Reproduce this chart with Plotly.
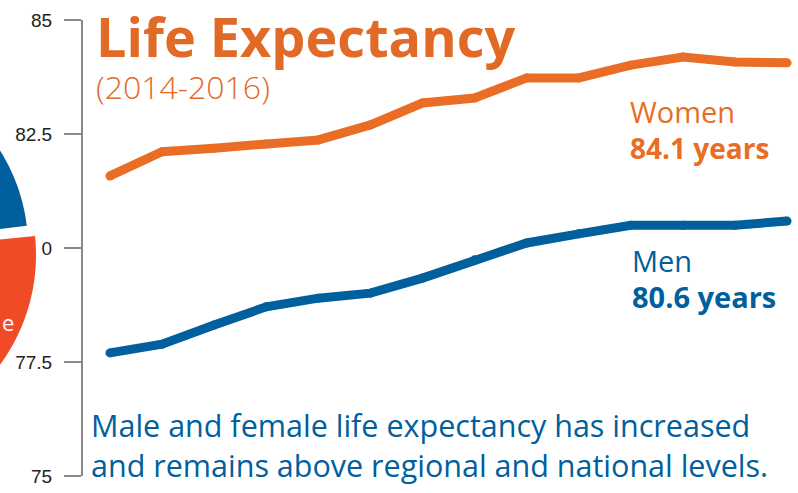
import numpy as np
import plotly.graph_objects as go

periods = ["2001-2003", "2002-2004", "2003-2005", "2004-2006", "2005-2007", "2006-2008",
           "2007-2009", "2008-2010", "2009-2011", "2010-2012", "2011-2013", "2012-2014",
           "2013-2015", "2014-2016"]
women = [81.58, 82.11, 82.19, 82.28, 82.37, 82.70, 83.18, 83.29, 83.73, 83.73, 84.01, 84.19, 84.08, 84.06]
men = [77.70, 77.89, 78.31, 78.71, 78.90, 79.01, 79.34, 79.74, 80.11, 80.31, 80.50, 80.50, 80.50, 80.59]
y_tickvals = [75, 77.5, 80, 82.5, 85]
y_ticktext = ["75", "77.5", "0", "82.5", "85"]

ORANGE = "#E96D25"
BLUE = "#00609D"
RED = "#F04A27"
FONT = "Open Sans"

W, H = 798, 493
ML, MR, MT, MB = 83, 0, 20, 17
PW, PH = W - ML - MR, H - MT - MB


def px(x):
    return (x - ML) / PW


def py(y):
    return (H - MB - y) / PH


fig = go.Figure()
xi = list(range(len(periods)))
for vals, col in ((women, ORANGE), (men, BLUE)):
    fig.add_trace(go.Scatter(
        x=xi, y=vals, mode="lines+markers",
        line=dict(color=col, width=9, shape="linear"),
        marker=dict(color=col, size=9),
        hoverinfo="skip", showlegend=False, cliponaxis=False))


def wedge(cx, cy, r, a0, a1, n=80):
    angs = np.radians(np.linspace(a0, a1, n))
    pts = [(cx, cy)] + [(cx + r * np.cos(a), cy - r * np.sin(a)) for a in angs]
    d = "M " + " L ".join(f"{px(x):.5f},{py(y):.5f}" for x, y in pts) + " Z"
    return d


shapes = [
    dict(type="path", xref="paper", yref="paper", path=wedge(-149, 255, 185, 5.9, -80),
         fillcolor=RED, line=dict(width=0), layer="below"),
    dict(type="path", xref="paper", yref="paper", path=wedge(-152, 247, 180, 6.8, 80),
         fillcolor=BLUE, line=dict(width=0), layer="below"),
]

title_text = ("<b><span style='font-size:54px'>Life Expectancy</span></b>"
              "<br>(2014-2016)")

annotations = [
    dict(text=title_text, x=px(94), y=py(-3), xref="paper", yref="paper",
         xanchor="left", yanchor="top", align="left", showarrow=False,
         font=dict(family=FONT, size=32, color="#E26A27", weight=300)),
    dict(text="Women", x=px(628), y=py(112), xref="paper", yref="paper",
         xanchor="left", yanchor="middle", showarrow=False,
         font=dict(family=FONT, size=29, color=ORANGE)),
    dict(text="<b>84.1 years</b>", x=px(628), y=py(148), xref="paper", yref="paper",
         xanchor="left", yanchor="middle", showarrow=False,
         font=dict(family=FONT, size=28, color=ORANGE)),
    dict(text="Men", x=px(630), y=py(260), xref="paper", yref="paper",
         xanchor="left", yanchor="middle", showarrow=False,
         font=dict(family=FONT, size=29, color=BLUE)),
    dict(text="<b>80.6 years</b>", x=px(630), y=py(296), xref="paper", yref="paper",
         xanchor="left", yanchor="middle", showarrow=False,
         font=dict(family=FONT, size=29, color=BLUE)),
    dict(text="Male and female life expectancy has increased<br>"
              "and remains above regional and national levels.",
         x=px(89), y=py(444.5), xref="paper", yref="paper", xanchor="left",
         yanchor="middle", align="left", showarrow=False,
         font=dict(family=FONT, size=30.5, color=BLUE)),
    dict(text="e", x=px(0), y=py(322), xref="paper", yref="paper",
         xanchor="left", yanchor="middle", showarrow=False,
         font=dict(family=FONT, size=22, color="white")),
]

fig.update_layout(
    width=W, height=H,
    margin=dict(l=ML, r=MR, t=MT, b=MB),
    paper_bgcolor="white", plot_bgcolor="white",
    shapes=shapes, annotations=annotations,
    xaxis=dict(range=[-0.518, 13.21], visible=False, fixedrange=True),
    yaxis=dict(range=[75, 85], tickvals=y_tickvals, ticktext=y_ticktext, fixedrange=True,
               showgrid=False, zeroline=False, showline=True, linecolor="#8a8a8a",
               linewidth=2, ticks="outside", ticklen=17, tickwidth=2, tickcolor="#8a8a8a",
               ticklabelstandoff=8,
               tickfont=dict(family="Liberation Sans", size=19, color="#222222")),
)

fig.write_html("out.html", config={"displayModeBar": False},
               post_script="document.body.style.margin='0';")
